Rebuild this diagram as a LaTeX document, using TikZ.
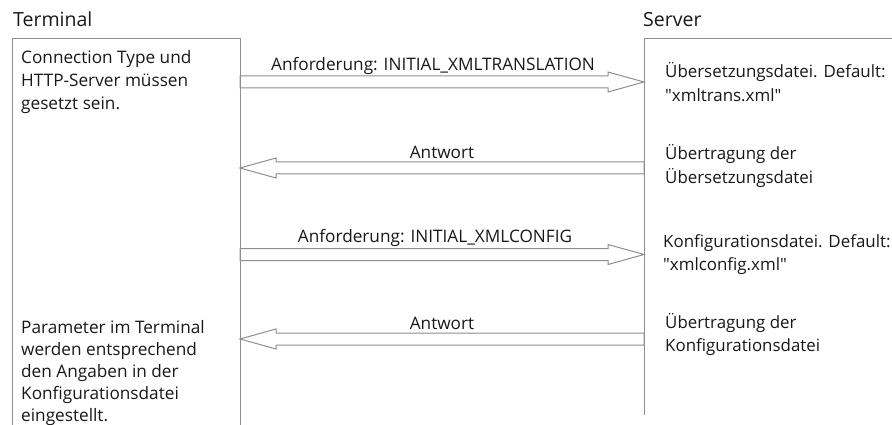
\documentclass[tikz,border=0pt]{standalone}
\usepackage{fontspec}
\setmainfont{Open Sans}
\usetikzlibrary{calc}
\definecolor{linegray}{HTML}{8E8E8E}
\definecolor{ink}{HTML}{1A1718}
\newcommand\txtsize{\fontsize{17.2pt}{23.4pt}\selectfont}
\newcommand\srvsize{\fontsize{16.9pt}{23.5pt}\selectfont}
\newcommand\titlesize{\fontsize{19.5pt}{24pt}\selectfont}
\newcommand\lines[1]{\begin{tabular}[t]{@{}l@{}}#1\end{tabular}}

\begin{document}
\begin{tikzpicture}[x=1pt,y=-1pt,
  frame/.style={draw=linegray, line width=1pt},
  % hollow block arrow from start to target: shaft 12pt, head 20pt wide, 36pt long
  fatarrow/.style={draw=linegray, line width=1pt, line join=miter,
    to path={
      ($(\tikztostart)!6pt!90:(\tikztotarget)$)
      -- ($(\tikztotarget)!36pt!(\tikztostart)!6pt!90:(\tikztotarget)$)
      -- ($(\tikztotarget)!36pt!(\tikztostart)!10pt!90:(\tikztotarget)$)
      -- (\tikztotarget)
      -- ($(\tikztotarget)!36pt!(\tikztostart)!10pt!-90:(\tikztotarget)$)
      -- ($(\tikztotarget)!36pt!(\tikztostart)!6pt!-90:(\tikztotarget)$)
      -- ($(\tikztostart)!6pt!-90:(\tikztotarget)$)
      -- cycle}},
  lbl/.style={inner sep=0pt, text=ink, font=\txtsize},
  note/.style={lbl, anchor=base west},
  srvnote/.style={note, font=\srvsize},
  title/.style={note, font=\titlesize},
  msg/.style={lbl, anchor=base},
]
\useasboundingbox (0,0) rectangle (892,425);

% column titles
\node[title] (termtitle) at (13,27) {Terminal};
\node[title] (servtitle) at (643,27) {Server};

% open column frames
\draw[frame] (12,425) -- (12,39) -- (240,39) -- (240,425);
\draw[frame] (644,415) -- (644,39) -- (892,39);

% arrow end points on the column borders
\coordinate (treq1) at (240,82);
\coordinate (sreq1) at (644,82);
\coordinate (sres1) at (644,168);
\coordinate (tres1) at (240,168);
\coordinate (treq2) at (240,254.5);
\coordinate (sreq2) at (644,254.5);
\coordinate (sres2) at (644,339);
\coordinate (tres2) at (240,339);

% messages
\draw[fatarrow] (treq1) to (sreq1);
\draw[fatarrow] (sres1) to (tres1);
\draw[fatarrow] (treq2) to (sreq2);
\draw[fatarrow] (sres2) to (tres2);

\node[msg] (lreq1) at (433,71) {Anforderung: INITIAL\_XMLTRANSLATION};
\node[msg] (lres1) at (442,159) {Antwort};
\node[msg] (lreq2) at (435,242) {Anforderung: INITIAL\_XMLCONFIG};
\node[msg] (lres2) at (442,329) {Antwort};

% terminal notes
\node[note, font=\fontsize{17.2pt}{23pt}\selectfont] (tnote1) at (21,64)
  {\lines{Connection Type und\\HTTP-Server müssen\\gesetzt sein.}};
\node[note, font=\fontsize{17.2pt}{22pt}\selectfont] (tnote2) at (21,333)
  {\lines{Parameter im Terminal\\werden entsprechend\\den Angaben in der\\Konfigurationsdatei\\eingestellt.}};

% server notes
\node[srvnote] (snote1) at (665,78)
  {\lines{Übersetzungsdatei. Default:\\\textquotedbl xmltrans.xml\textquotedbl}};
\node[srvnote] (snote2) at (665,160) {\lines{Übertragung der\\Übersetzungsdatei}};
\node[srvnote] (snote3) at (663,247)
  {\lines{Konfigurationsdatei. Default:\\\textquotedbl xmlconfig.xml\textquotedbl}};
\node[srvnote] (snote4) at (665,328) {\lines{Übertragung der\\Konfigurationsdatei}};
\end{tikzpicture}
\end{document}
